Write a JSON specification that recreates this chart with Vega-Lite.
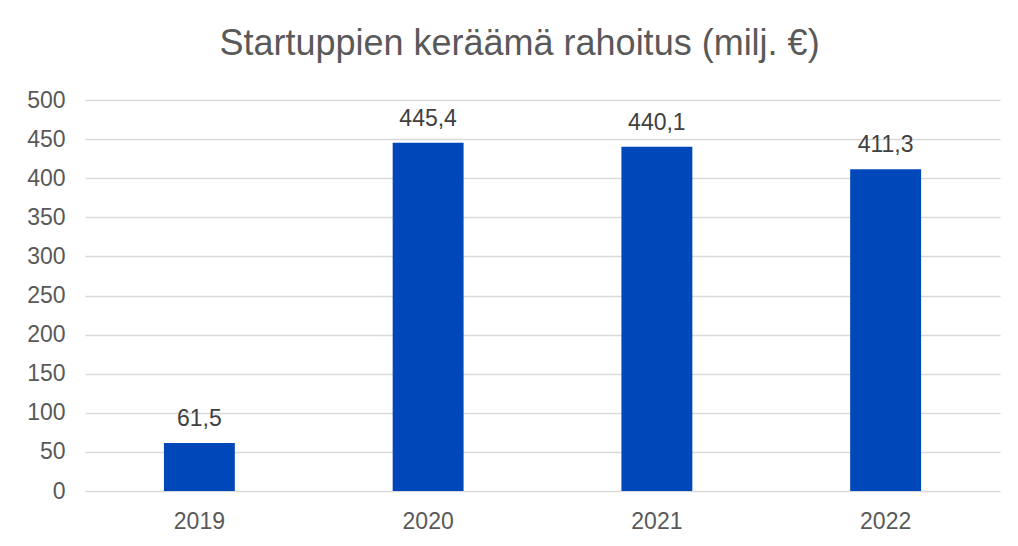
{
  "$schema": "https://vega.github.io/schema/vega-lite/v6.json",
  "width": 915,
  "height": 391,
  "autosize": {"type": "none"},
  "padding": {"left": 85, "top": 100, "right": 18, "bottom": 55},
  "background": "white",
  "config": {
    "locale": {"number": {"decimal": ",", "thousands": "\u00a0", "grouping": [3], "currency": ["", " €"]}},
    "view": {"stroke": null},
    "font": "Liberation Sans"
  },
  "title": {
    "text": "Startuppien keräämä rahoitus (milj. €)",
    "anchor": "middle",
    "frame": "group",
    "font": "Liberation Sans",
    "fontSize": 36,
    "fontWeight": "normal",
    "color": "#595959",
    "baseline": "alphabetic",
    "dx": -23,
    "offset": -2
  },
  "data": {
    "values": [
      {"year": "2019", "value": 61.5},
      {"year": "2020", "value": 445.4},
      {"year": "2021", "value": 440.1},
      {"year": "2022", "value": 411.3}
    ]
  },
  "encoding": {
    "x": {
      "field": "year",
      "type": "nominal",
      "sort": null,
      "scale": {"paddingInner": 0, "paddingOuter": 0},
      "axis": {
        "title": null,
        "labelAngle": 0,
        "domain": false,
        "ticks": false,
        "tickSize": 0,
        "labelPadding": 19,
        "labelFontSize": 23,
        "labelColor": "#595959",
        "labelFont": "Liberation Sans"
      }
    },
    "y": {
      "field": "value",
      "type": "quantitative",
      "scale": {"domain": [0, 500], "nice": false},
      "axis": {
        "title": null,
        "values": [0, 50, 100, 150, 200, 250, 300, 350, 400, 450, 500],
        "domain": false,
        "ticks": false,
        "tickSize": 0,
        "labelPadding": 20,
        "labelFontSize": 23,
        "labelColor": "#595959",
        "labelFont": "Liberation Sans",
        "gridColor": "#D9D9D9",
        "gridWidth": 1.5
      }
    }
  },
  "layer": [
    {
      "mark": {"type": "bar", "color": "#0047BA", "width": {"band": 0.31}}
    },
    {
      "mark": {"type": "text", "baseline": "alphabetic", "dy": -17, "fontSize": 23, "color": "#404040", "font": "Liberation Sans"},
      "encoding": {
        "text": {"field": "value", "type": "quantitative", "format": ".1f"}
      }
    }
  ]
}
